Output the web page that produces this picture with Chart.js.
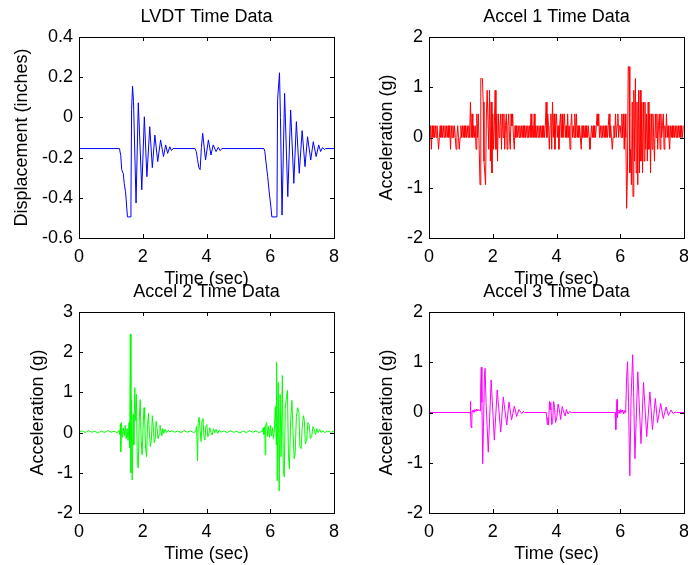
<!DOCTYPE html>
<html lang="en">
<head>
  <meta charset="UTF-8" />
  <title>LVDT and Accel Time Data</title>
  <script src="https://cdn.jsdelivr.net/npm/chart.js"></script>
  <style>
    body { margin: 0; background: #fff; }
    #wrap { position: relative; width: 688px; height: 565px; overflow: hidden; }
    canvas { position: absolute; }
  </style>
</head>
<body>
  <div id="wrap">
    <canvas id="lvdt" width="344" height="290" style="left:0;top:0"></canvas>
    <canvas id="acc1" width="344" height="290" style="left:344px;top:0"></canvas>
    <canvas id="acc2" width="344" height="290" style="left:0;top:275px"></canvas>
    <canvas id="acc3" width="344" height="290" style="left:344px;top:275px"></canvas>
  </div>

  <script>
    // time axis (sec), shared by all four plots
    const timeTicks = [0, 2, 4, 6, 8];

    // LVDT displacement (inches), [time, value]
    const lvdtTicks = [-0.6, -0.4, -0.2, 0, 0.2, 0.4];
    const lvdtPoints = [
      [0, -0.155], [1.27, -0.155], [1.31, -0.19], [1.34, -0.26], [1.39, -0.28], [1.42, -0.33],
      [1.46, -0.37], [1.48, -0.41], [1.52, -0.495], [1.60, -0.495], [1.63, -0.42], [1.65, 0.04],
      [1.68, 0.155], [1.71, 0.08], [1.79, -0.426], [1.86, 0.073], [1.97, -0.36], [2.05, 0.003],
      [2.13, -0.295], [2.22, -0.046], [2.30, -0.25], [2.38, -0.088], [2.47, -0.22], [2.56, -0.112],
      [2.65, -0.195], [2.72, -0.137], [2.78, -0.179], [2.85, -0.146], [2.90, -0.165], [2.95, -0.155],
      [3.64, -0.155], [3.68, -0.17], [3.72, -0.21], [3.76, -0.25], [3.80, -0.26], [3.84, -0.15],
      [3.88, -0.079], [3.97, -0.212], [4.06, -0.112], [4.14, -0.187], [4.21, -0.137], [4.30, -0.17],
      [4.37, -0.149], [4.43, -0.165], [4.48, -0.155],
      [5.80, -0.155], [5.83, -0.17], [5.87, -0.227], [5.92, -0.295], [5.97, -0.376], [6.02, -0.444],
      [6.05, -0.495], [6.21, -0.495], [6.23, 0.087], [6.29, 0.222], [6.32, 0.0], [6.37, -0.486],
      [6.45, 0.12], [6.55, -0.394], [6.64, 0.037], [6.74, -0.328], [6.82, -0.021], [6.91, -0.278],
      [7.00, -0.066], [7.09, -0.245], [7.17, -0.096], [7.27, -0.212], [7.35, -0.121], [7.44, -0.195],
      [7.52, -0.137], [7.58, -0.17], [7.64, -0.15], [7.70, -0.16], [7.74, -0.155], [8, -0.155]
    ];

    // Accel 1 is quantized: one code per sample, 40 samples per second.
    // '0'..'6' = +0..+6 counts, 'a'..'f' = -1..-6 counts
    const acc1Ticks = [-2, -1, 0, 1, 2];
    const acc1Count = 0.235; // g per count
    const acc1Codes = [
      "101a10101010a01010101010101a101010a010a0",
      "1010101010103020101a202ad5553bcd244a4b3c",
      "2a14a2b2012a202a12a120a2120a101010101010",
      "1010101020102010101010101013021a12a302a1",
      "201a1202012010201a1201020201010a10101010",
      "10a010101012120101010101012010a010201201",
      "10202a20fc66cad3e4b5c3d4c4b3c3b3a2b3a2c2",
      "a20b202a12a2012a102010a10101010101010101"
    ];

    // Accel 2 (g), [time, value]
    const acc2Ticks = [-2, -1, 0, 1, 2, 3];
    const acc2Points = [
      [0, 0.02], [0.1, 0.04], [0.2, 0.0], [0.3, 0.05], [0.4, 0.01], [0.5, 0.03], [0.6, -0.01],
      [0.7, 0.04], [0.8, 0.0], [0.9, 0.05], [1.0, 0.01], [1.1, 0.03], [1.2, 0.0],
      [1.25, 0.06], [1.28, -0.05], [1.30, 0.22], [1.31, -0.48], [1.33, 0.25], [1.36, -0.12],
      [1.39, 0.12], [1.42, -0.08], [1.45, 0.18], [1.48, -0.15], [1.51, 0.1], [1.54, -0.2],
      [1.57, 0.25], [1.59, -0.38], [1.61, 2.45], [1.63, -1.0], [1.65, 0.8], [1.67, -1.18],
      [1.70, 0.45], [1.72, -0.3], [1.75, 1.12], [1.78, 0.3], [1.80, 0.95], [1.83, -0.75],
      [1.86, -0.88], [1.89, 0.3], [1.92, 0.82], [1.95, -0.2], [1.98, -0.55], [2.01, 0.1],
      [2.04, 0.62], [2.06, 0.35], [2.09, -0.4], [2.12, -0.6], [2.15, 0.2], [2.18, 0.48],
      [2.21, -0.05], [2.24, -0.35], [2.27, -0.2], [2.30, 0.42], [2.33, 0.15], [2.36, -0.25],
      [2.39, -0.18], [2.42, 0.28], [2.45, 0.1], [2.48, -0.15], [2.51, -0.05], [2.54, 0.18],
      [2.57, 0.05], [2.60, -0.08], [2.63, 0.1], [2.66, -0.02], [2.70, 0.08], [2.75, 0.0],
      [2.80, 0.06], [2.85, 0.01], [2.90, 0.05],
      [3.0, 0.01], [3.1, 0.04], [3.2, 0.0], [3.3, 0.05], [3.4, 0.01], [3.5, 0.04], [3.6, 0.0],
      [3.66, 0.03], [3.69, 0.15], [3.72, -0.7], [3.74, 0.25], [3.77, 0.38], [3.80, 0.05],
      [3.83, -0.22], [3.86, 0.3], [3.89, 0.35], [3.92, -0.1], [3.95, -0.18], [3.98, 0.15],
      [4.01, 0.2], [4.04, -0.1], [4.07, -0.08], [4.10, 0.12], [4.14, 0.0], [4.18, -0.06],
      [4.22, 0.1], [4.26, 0.0], [4.30, 0.08], [4.35, -0.02], [4.40, 0.06], [4.45, 0.01],
      [4.55, 0.04], [4.65, 0.0], [4.75, 0.05], [4.85, 0.01], [4.95, 0.03], [5.05, -0.01],
      [5.15, 0.04], [5.25, 0.0], [5.35, 0.05], [5.45, 0.01], [5.55, 0.04], [5.65, 0.0],
      [5.72, 0.03], [5.75, 0.02], [5.78, 0.12], [5.80, -0.05], [5.83, 0.15], [5.84, -0.55],
      [5.86, 0.2], [5.89, 0.25], [5.92, -0.1], [5.95, 0.15], [5.98, -0.12], [6.01, 0.18],
      [6.04, -0.08], [6.07, 0.12], [6.10, -0.15], [6.13, 0.1], [6.16, 0.65], [6.19, -0.3],
      [6.20, 1.75], [6.22, -1.2], [6.25, 1.25], [6.28, -1.45], [6.31, 0.95], [6.34, -0.6],
      [6.38, 1.42], [6.41, -0.95], [6.44, -1.1], [6.47, 0.6], [6.51, 0.9], [6.54, 1.05],
      [6.57, -0.55], [6.60, -0.9], [6.64, 0.3], [6.68, 0.8], [6.71, 0.1], [6.75, -0.65],
      [6.78, -0.55], [6.82, 0.4], [6.86, 0.62], [6.90, 0.5], [6.93, -0.35], [6.97, -0.4],
      [7.00, 0.1], [7.04, 0.42], [7.07, 0.3], [7.10, -0.28], [7.14, -0.2], [7.18, 0.25],
      [7.22, 0.2], [7.26, -0.15], [7.30, -0.1], [7.34, 0.15], [7.38, 0.08], [7.42, -0.05],
      [7.46, 0.1], [7.50, 0.0], [7.55, 0.08], [7.60, 0.0], [7.65, 0.05], [7.70, 0.0],
      [7.80, 0.04], [7.90, 0.01], [8.0, 0.03]
    ];

    // Accel 3 (g), [time, value]
    const acc3Ticks = [-2, -1, 0, 1, 2];
    const acc3Points = [
      [0, 0], [1.29, 0], [1.30, 0.22], [1.31, -0.05], [1.32, -0.28], [1.34, -0.3], [1.35, 0.02],
      [1.38, 0.05], [1.41, 0.0], [1.44, 0.06], [1.47, 0.02], [1.50, 0.07], [1.53, 0.03],
      [1.56, 0.06], [1.60, 0.03], [1.62, 0.5], [1.64, 0.9], [1.66, 0.2], [1.685, -1.02],
      [1.71, -0.3], [1.74, 0.75], [1.76, 0.88], [1.79, 0.2], [1.86, -0.79], [1.95, 0.65],
      [2.05, -0.55], [2.14, 0.45], [2.25, -0.39], [2.33, 0.31], [2.44, -0.25], [2.51, 0.21],
      [2.59, -0.15], [2.68, 0.13], [2.75, -0.08], [2.82, 0.06], [2.91, -0.02], [2.96, 0.02],
      [3.0, 0],
      [3.68, 0], [3.71, -0.24], [3.73, -0.1], [3.75, -0.25], [3.78, 0.22], [3.80, 0.05],
      [3.82, 0.2], [3.85, -0.24], [3.88, -0.18], [3.91, 0.22], [3.94, 0.1], [3.97, -0.2],
      [4.01, -0.1], [4.05, 0.17], [4.09, 0.05], [4.13, -0.14], [4.18, 0.12], [4.23, 0.0],
      [4.27, -0.07], [4.31, 0.06], [4.36, -0.03], [4.41, 0.02], [4.47, 0],
      [5.84, 0], [5.86, -0.34], [5.88, 0.1], [5.90, 0.26], [5.91, -0.1], [5.93, 0.0],
      [5.96, 0.05], [5.99, -0.02], [6.02, 0.06], [6.05, 0.0], [6.08, 0.05], [6.11, -0.03],
      [6.14, 0.04], [6.17, 0.0], [6.20, 0.71], [6.23, 1.01], [6.26, 0.2], [6.30, -1.26],
      [6.34, 0.3], [6.39, 1.15], [6.42, 0.4], [6.46, -0.92], [6.55, 0.81], [6.65, -0.62],
      [6.73, 0.6], [6.83, -0.48], [6.93, 0.41], [7.01, -0.34], [7.10, 0.28], [7.17, -0.2],
      [7.27, 0.18], [7.35, -0.12], [7.44, 0.11], [7.51, -0.06], [7.59, 0.05], [7.66, -0.02],
      [7.72, 0.01], [7.76, 0], [8, 0]
    ];

    function codeToCount(ch) {
      if (ch >= '0' && ch <= '9') return Number(ch);
      return -(ch.charCodeAt(0) - 96);
    }

    // one sample string per second
    const acc1Points = [];
    acc1Codes.forEach((row, sec) => {
      for (let j = 0; j < row.length; j++) {
        acc1Points.push([sec + j / row.length, codeToCount(row[j]) * acc1Count]);
      }
    });

    Chart.defaults.font.family = "'Liberation Sans', Arial, sans-serif";
    Chart.defaults.font.size = 18;
    Chart.defaults.color = '#000';

    // draws the box round the plot and short inward ticks on all four sides
    const boxTicks = {
      id: 'boxTicks',
      afterDatasetsDraw(chart) {
        const { ctx, chartArea: a, scales: { x, y } } = chart;
        const len = 4;
        ctx.save();
        ctx.strokeStyle = '#000';
        ctx.lineWidth = 1;
        ctx.strokeRect(a.left + 0.5, a.top + 0.5, a.right - a.left, a.bottom - a.top);
        ctx.beginPath();
        x.ticks.forEach(t => {
          const px = Math.round(x.getPixelForValue(t.value)) + 0.5;
          ctx.moveTo(px, a.bottom); ctx.lineTo(px, a.bottom - len);
          ctx.moveTo(px, a.top); ctx.lineTo(px, a.top + len);
        });
        y.ticks.forEach(t => {
          const py = Math.round(y.getPixelForValue(t.value)) + 0.5;
          ctx.moveTo(a.left, py); ctx.lineTo(a.left + len, py);
          ctx.moveTo(a.right, py); ctx.lineTo(a.right - len, py);
        });
        ctx.stroke();
        ctx.restore();
      }
    };

    function makePlot(id, cfg) {
      new Chart(document.getElementById(id), {
        type: 'line',
        data: {
          datasets: [{
            data: cfg.points.map(p => ({ x: p[0], y: p[1] })),
            borderColor: cfg.color,
            borderWidth: 1,
            pointRadius: 0,
            tension: 0,
            fill: false
          }]
        },
        options: {
          responsive: false,
          animation: false,
          events: [],
          layout: { padding: { left: 0, right: cfg.rightPad, top: 0, bottom: 0 } },
          plugins: {
            legend: { display: false },
            tooltip: { enabled: false },
            title: {
              display: true,
              fullSize: false,
              text: cfg.title,
              color: '#000',
              font: { size: 18, weight: 'normal' },
              padding: { top: 6.5, bottom: 8.9 }
            }
          },
          scales: {
            x: {
              type: 'linear',
              min: 0,
              max: 8,
              grid: { display: false, drawTicks: false },
              border: { display: false },
              afterBuildTicks: s => { s.ticks = timeTicks.map(v => ({ value: v })); },
              afterFit: s => { s.height = 52; s.paddingLeft = 0; s.paddingRight = 0; },
              ticks: { padding: 8, maxRotation: 0, callback: v => String(v) },
              title: { display: true, text: 'Time (sec)', padding: { top: 0, bottom: 0 } }
            },
            y: {
              type: 'linear',
              min: cfg.yTicks[0],
              max: cfg.yTicks[cfg.yTicks.length - 1],
              grid: { display: false, drawTicks: false },
              border: { display: false },
              afterBuildTicks: s => { s.ticks = cfg.yTicks.map(v => ({ value: v })); },
              afterFit: s => { s.width = cfg.yWidth; s.paddingTop = 0; s.paddingBottom = 0; },
              ticks: { padding: 6, callback: v => String(v) },
              title: { display: true, text: cfg.yLabel, padding: { top: cfg.yTitlePad, bottom: 0 } }
            }
          }
        },
        plugins: [boxTicks]
      });
    }

    makePlot('lvdt', { points: lvdtPoints, color: '#0000ff', yTicks: lvdtTicks, title: 'LVDT Time Data',
      yLabel: 'Displacement (inches)', yWidth: 79, yTitlePad: 11.7, rightPad: 10 });
    makePlot('acc1', { points: acc1Points, color: '#ff0000', yTicks: acc1Ticks, title: 'Accel 1 Time Data',
      yLabel: 'Acceleration (g)', yWidth: 85, yTitlePad: 32.2, rightPad: 4 });
    makePlot('acc2', { points: acc2Points, color: '#00ff00', yTicks: acc2Ticks, title: 'Accel 2 Time Data',
      yLabel: 'Acceleration (g)', yWidth: 79, yTitlePad: 27.2, rightPad: 10 });
    makePlot('acc3', { points: acc3Points, color: '#ff00ff', yTicks: acc3Ticks, title: 'Accel 3 Time Data',
      yLabel: 'Acceleration (g)', yWidth: 85, yTitlePad: 32.2, rightPad: 4 });
  </script>
</body>
</html>
